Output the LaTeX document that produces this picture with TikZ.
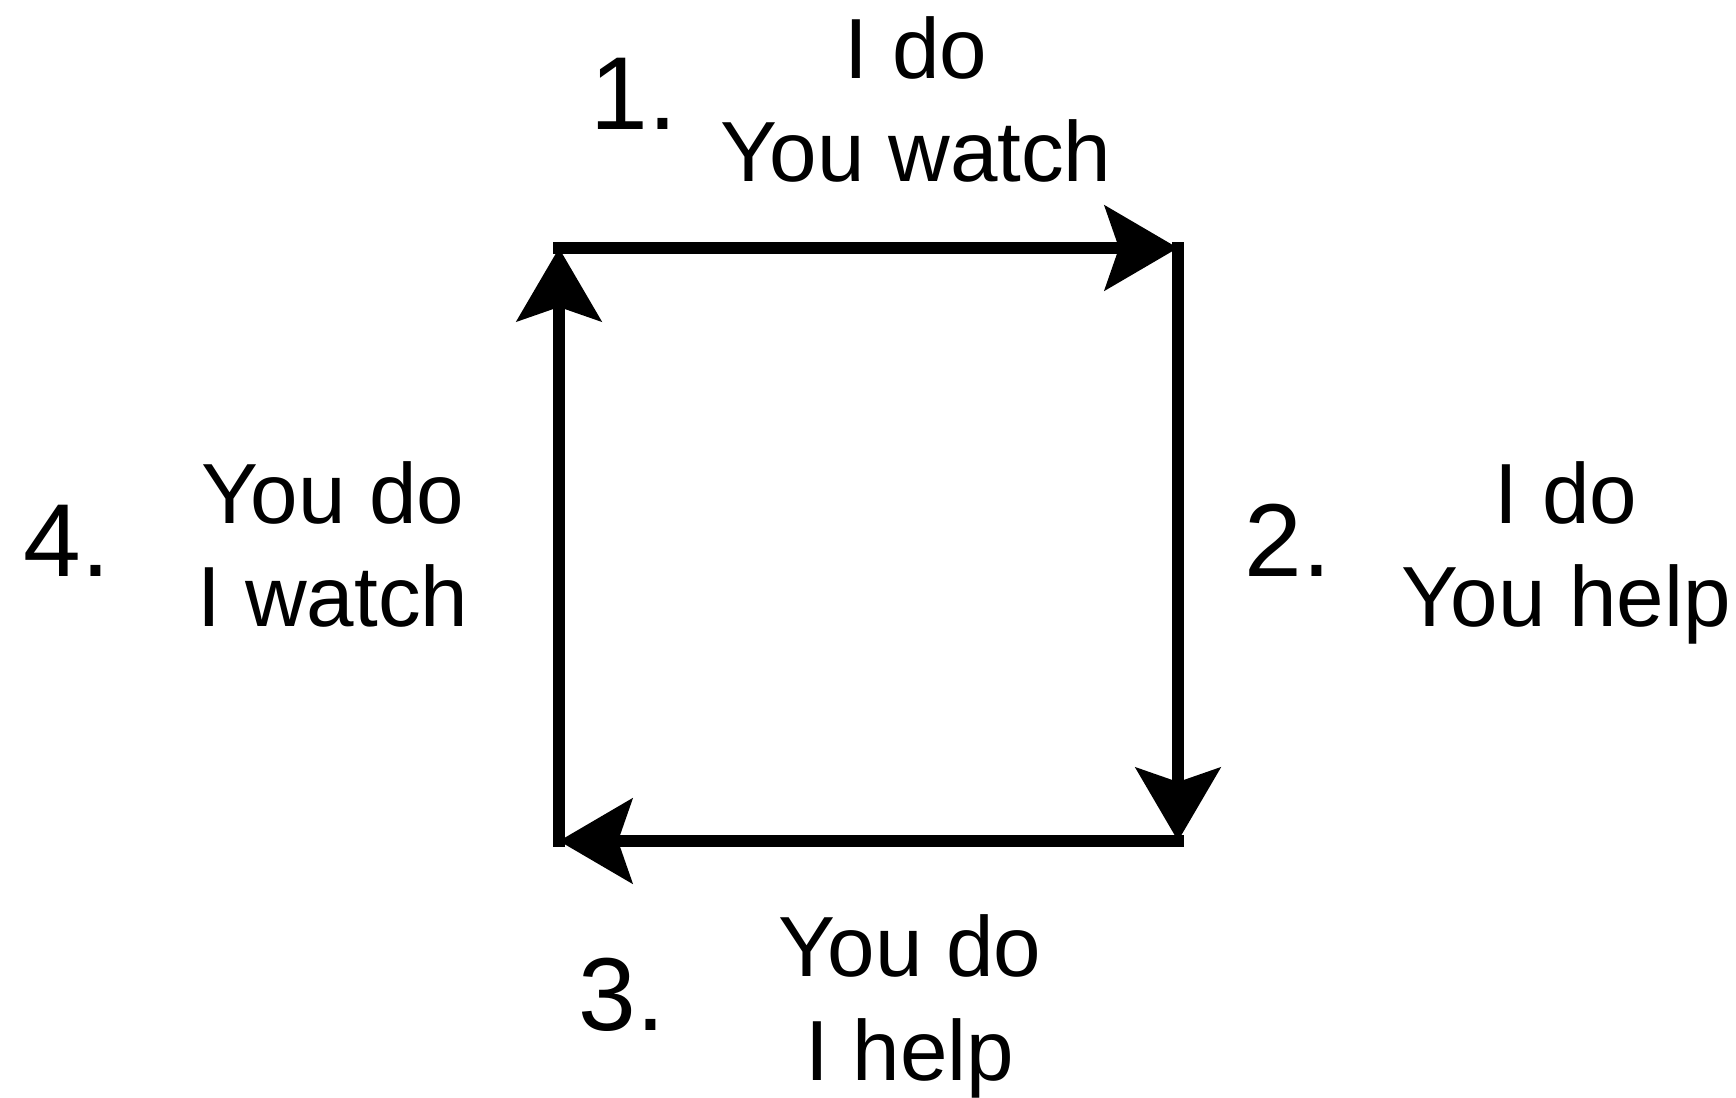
\documentclass[tikz,border=0pt]{standalone}
\usepackage{fontspec}
\setmainfont{Liberation Sans}
\usetikzlibrary{arrows.meta}

\begin{document}
\begin{tikzpicture}[
    every node/.style={inner sep=0pt, outer sep=0pt},
    phase/.style={align=center, anchor=base, font=\fontsize{24.3}{29.5}\selectfont},
    num/.style={anchor=base, font=\fontsize{29.5}{36}\selectfont},
    arrow/.style={-{Stealth[length=7.3mm, width=8.4mm, inset=1.4mm]}, line width=3.6pt, line cap=rect}
  ]
    \useasboundingbox (0,0) rectangle (17.36,10.97);

    % corners of the cycle
    \coordinate (tl) at (5.59,8.49);
    \coordinate (tr) at (11.78,8.49);
    \coordinate (br) at (11.78,2.56);
    \coordinate (bl) at (5.59,2.56);

    % the four steps
    \draw[arrow] (tl) -- (tr);
    \draw[arrow] (tr) -- (br);
    \draw[arrow] (br) -- (bl);
    \draw[arrow] (bl) -- (tl);

    % 1. top
    \node[num] (n1) at (6.34,9.67) {1.};
    \node[phase] (s1) at (9.16,9.15) {I do\\You watch};

    % 2. right
    \node[num] (n2) at (12.88,5.20) {2.};
    \node[phase] (s2) at (15.66,4.70) {I do\\You help};

    % 3. bottom
    \node[num] (n3) at (6.22,0.67) {3.};
    \node[phase] (s3) at (9.10,0.17) {You do\\I help};

    % 4. left
    \node[num] (n4) at (0.67,5.20) {4.};
    \node[phase] (s4) at (3.33,4.70) {You do\\I watch};

  \end{tikzpicture}
\end{document}
